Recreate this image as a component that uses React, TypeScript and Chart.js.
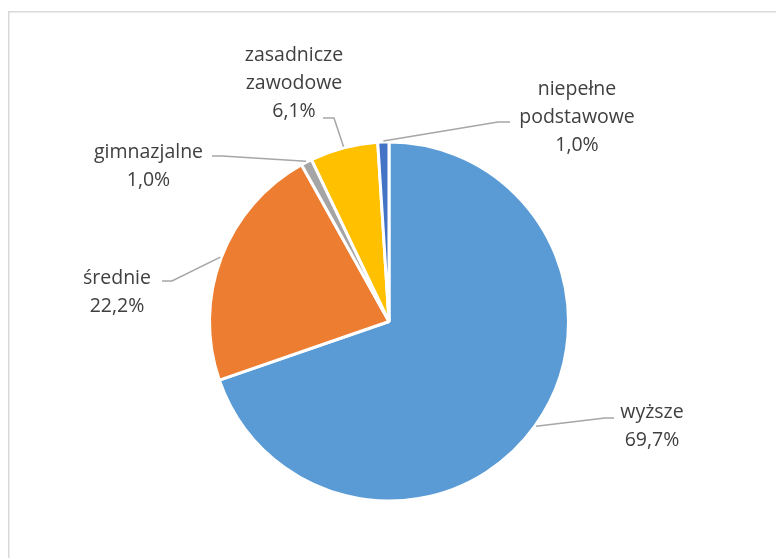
import React, { useEffect, useRef } from "react";
import { Chart, registerables } from "chart.js";

Chart.register(...registerables);

const categories = ["wyższe", "średnie", "gimnazjalne", "zasadnicze zawodowe", "niepełne podstawowe"];
const values = [69.7, 22.2, 1.0, 6.1, 1.0];
const valueLabels = ["69,7%", "22,2%", "1,0%", "6,1%", "1,0%"];
const colors = ["#5B9BD5", "#ED7D31", "#A5A5A5", "#FFC000", "#4472C4"];

// label layout: text lines, center x, first baseline, line step; leader elbow and end
const labelLines = [
  ["wyższe"],
  ["średnie"],
  ["gimnazjalne"],
  ["zasadnicze", "zawodowe"],
  ["niepełne", "podstawowe"],
];
const labelCenterX = [652, 117, 148.5, 294, 577];
const labelBaseY = [418, 284, 158, 61, 95];
const lineStep = 27.8;
const leaderElbow = [[605, 418], [172, 281], [222, 156], [334, 118], [498, 122]];
const leaderEnd = [[614, 418], [162, 281], [212, 156], [323, 118], [510, 122]];

const framePlugin = {
  id: "frame",
  beforeDraw(chart: any) {
    const ctx = chart.ctx;
    ctx.save();
    ctx.fillStyle = "#ffffff";
    ctx.fillRect(0, 0, chart.width, chart.height);
    ctx.strokeStyle = "#D9D9D9";
    ctx.lineWidth = 1.5;
    ctx.strokeRect(8.75, 11.75, 1000, 1000);
    ctx.restore();
  },
};

const labelPlugin = {
  id: "pieLabels",
  afterDraw(chart: any) {
    const ctx = chart.ctx;
    const meta = chart.getDatasetMeta(0);
    ctx.save();
    meta.data.forEach((arc: any, i: number) => {
      const mid = (arc.startAngle + arc.endAngle) / 2;
      const r = arc.outerRadius + 1;
      const ax = arc.x + Math.cos(mid) * r;
      const ay = arc.y + Math.sin(mid) * r;
      ctx.strokeStyle = "#A6A6A6";
      ctx.lineWidth = 1.5;
      ctx.beginPath();
      ctx.moveTo(ax, ay);
      ctx.lineTo(leaderElbow[i][0], leaderElbow[i][1]);
      ctx.lineTo(leaderEnd[i][0], leaderEnd[i][1]);
      ctx.stroke();

      ctx.fillStyle = "#404040";
      ctx.font = '19.5px "Open Sans"';
      ctx.textAlign = "center";
      ctx.textBaseline = "alphabetic";
      const lines = [...labelLines[i], valueLabels[i]];
      lines.forEach((t, k) => {
        ctx.fillText(t, labelCenterX[i], labelBaseY[i] + k * lineStep);
      });
    });
    ctx.restore();
  },
};

export default function App() {
  const ref = useRef<HTMLCanvasElement>(null);
  useEffect(() => {
    if (!ref.current) return;
    const chart = new Chart(ref.current, {
      type: "pie",
      data: {
        labels: categories,
        datasets: [
          {
            data: values,
            backgroundColor: colors,
            borderColor: "#ffffff",
            borderWidth: 3,
          },
        ],
      },
      options: {
        animation: false,
        responsive: false,
        radius: 179.5,
        layout: { padding: { left: 200, right: 198, top: 140, bottom: 55 } },
        plugins: {
          legend: { display: false },
          tooltip: { enabled: false },
        },
      } as any,
      plugins: [framePlugin, labelPlugin],
    });
    return () => chart.destroy();
  }, []);
  return (
    <div style={{ position: "absolute", left: 0, top: 0, width: 776, height: 558 }}>
      <canvas ref={ref} width={776} height={558} style={{ width: 776, height: 558 }} />
    </div>
  );
}
